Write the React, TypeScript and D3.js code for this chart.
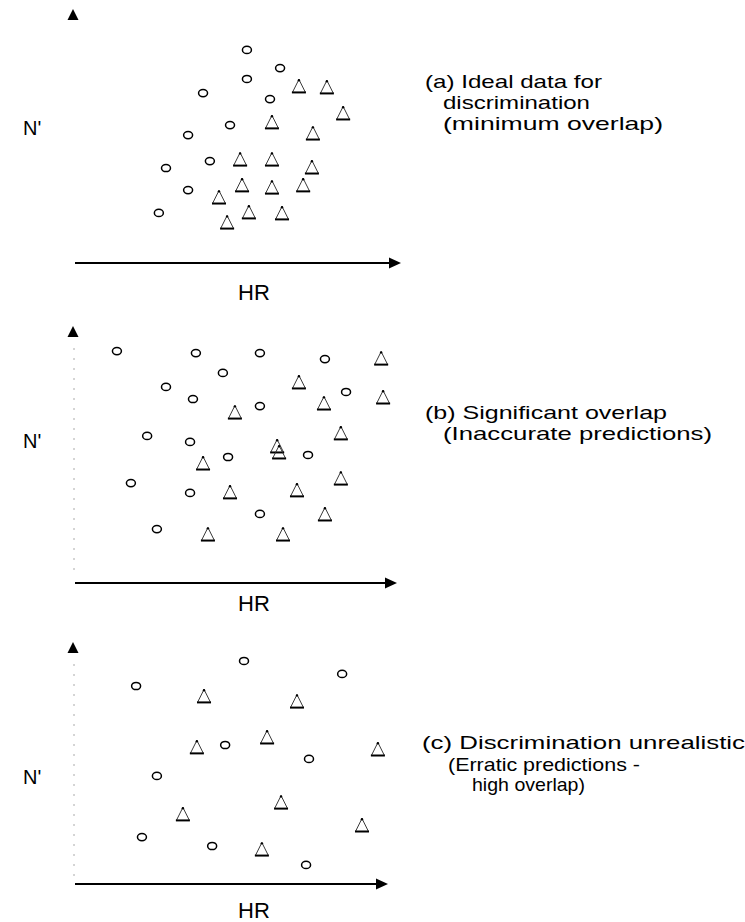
import React from "react";
import * as d3 from "d3";

// Scatter positions on a 0–100 scale: x = HR, y = N'
type Pt = [number, number];

// (a) Ideal data for discrimination
const idealCircles: Pt[] = [
  [52.9, 85.9], [63.1, 78.6], [52.9, 74.2], [39.4, 68.5], [60.0, 66.1],
  [47.7, 55.6], [34.8, 51.6], [41.5, 41.1], [28.0, 38.3], [34.8, 29.4],
  [25.8, 20.2],
];
const idealTriangles: Pt[] = [
  [68.9, 71.4], [77.5, 71.0], [82.5, 60.5], [60.6, 56.9], [73.2, 52.4],
  [50.8, 41.9], [60.6, 41.9], [72.9, 38.7], [51.4, 31.5], [60.6, 30.6],
  [70.2, 31.5], [44.3, 26.6], [53.5, 20.6], [63.7, 20.2], [46.8, 16.5],
];

// (b) Significant overlap
const overlapCircles: Pt[] = [
  [12.9, 92.4], [37.2, 91.6], [56.9, 91.6], [76.9, 89.2], [45.5, 83.7],
  [28.0, 78.1], [83.4, 76.1], [36.3, 73.3], [56.9, 70.5], [22.2, 58.6],
  [35.4, 56.2], [47.1, 50.2], [71.7, 51.0], [17.2, 39.8], [35.4, 35.9],
  [56.9, 27.5], [25.2, 21.5],
];
const overlapTriangles: Pt[] = [
  [94.2, 89.6], [68.9, 80.1], [76.6, 71.7], [94.8, 74.1], [49.2, 68.1],
  [81.8, 59.8], [62.2, 54.6], [62.8, 52.2], [39.4, 47.8], [81.8, 41.8],
  [47.7, 36.3], [68.3, 37.1], [76.9, 27.5], [40.9, 19.5], [64.0, 19.5],
];

// (c) Discrimination unrealistic
const erraticCircles: Pt[] = [
  [52.0, 94.5], [82.2, 89.0], [18.8, 83.9], [46.2, 58.9], [72.0, 53.0],
  [25.2, 45.8], [20.6, 19.9], [42.2, 16.1], [71.1, 8.1],
];
const erraticTriangles: Pt[] = [
  [39.7, 79.7], [68.3, 77.5], [59.1, 62.3], [37.5, 58.1], [93.2, 57.2],
  [63.4, 34.7], [33.2, 29.7], [88.3, 25.0], [57.5, 14.8],
];

const captionA = ["(a) Ideal data for", "discrimination", "(minimum overlap)"];
const captionB = ["(b) Significant overlap", "(Inaccurate predictions)"];
const captionC = ["(c) Discrimination unrealistic", "(Erratic predictions -", "high overlap)"];

const xLabel = "HR";
const yLabel = "N'";

const W = 745;
const H = 922;
const FONT = "'Liberation Sans', Arial, Helvetica, sans-serif";

interface Layout {
  circles: Pt[];
  triangles: Pt[];
  top: number;
  bottom: number;
  arrowTip: number;
  axisEnd: number;
  dottedY: boolean;
  nY: number;
  hrY: number;
  caption: string[];
  capX: number[];
  capY: number[];
  capW: number[];
}

const panels: Layout[] = [
  {
    circles: idealCircles, triangles: idealTriangles,
    top: 15, bottom: 263, arrowTip: 9, axisEnd: 401, dottedY: false,
    nY: 135, hrY: 300,
    caption: captionA, capX: [425, 443, 443], capY: [88, 109, 130], capW: [177, 147, 220],
  },
  {
    circles: overlapCircles, triangles: overlapTriangles,
    top: 332, bottom: 583, arrowTip: 326, axisEnd: 397, dottedY: true,
    nY: 448, hrY: 611,
    caption: captionB, capX: [425, 443], capY: [419, 440], capW: [242, 269],
  },
  {
    circles: erraticCircles, triangles: erraticTriangles,
    top: 648, bottom: 884, arrowTip: 642, axisEnd: 388, dottedY: true,
    nY: 784, hrY: 918,
    caption: captionC, capX: [422, 448, 472], capY: [749, 771, 791], capW: [323, 192, 113],
  },
];

const X0 = 75;
const xScale = d3.scaleLinear().domain([0, 100]).range([X0, 400]);

const triHalfW = 6.5;
const triH = 13;

function Panel({ p }: { p: Layout }) {
  const y = d3.scaleLinear().domain([0, 100]).range([p.bottom, p.top]);
  const yArrow = d3.path();
  yArrow.moveTo(X0 - 2, p.arrowTip);
  yArrow.lineTo(X0 - 7.5, p.arrowTip + 11);
  yArrow.lineTo(X0 + 3.5, p.arrowTip + 11);
  yArrow.closePath();
  const xArrow = d3.path();
  xArrow.moveTo(p.axisEnd, p.bottom);
  xArrow.lineTo(p.axisEnd - 12, p.bottom - 5.5);
  xArrow.lineTo(p.axisEnd - 12, p.bottom + 5.5);
  xArrow.closePath();
  return (
    <g>
      {p.dottedY && (
        <line x1={X0 - 1} x2={X0 - 1} y1={p.arrowTip + 22} y2={p.bottom - 6}
          stroke="#aaa" strokeWidth={1} strokeDasharray="2 8" />
      )}
      <path d={yArrow.toString()} fill="#000" />
      <line x1={X0} x2={p.axisEnd - 8} y1={p.bottom} y2={p.bottom} stroke="#000" strokeWidth={2} />
      <path d={xArrow.toString()} fill="#000" />
      {p.circles.map((d, i) => (
        <ellipse key={"c" + i} cx={xScale(d[0])} cy={y(d[1])} rx={4.5} ry={3.6}
          fill="none" stroke="#000" strokeWidth={1.5} />
      ))}
      {p.triangles.map((d, i) => {
        const cx = xScale(d[0]);
        const cy = y(d[1]);
        const top = cy - triH / 2;
        const base = cy + triH / 2;
        return (
          <g key={"t" + i}>
            <path d={`M${cx - triHalfW},${base} L${cx},${top} L${cx + triHalfW},${base}`}
              fill="none" stroke="#222" strokeWidth={0.9} />
            <line x1={cx - triHalfW - 0.5} x2={cx + triHalfW + 0.5} y1={base} y2={base}
              stroke="#000" strokeWidth={2} />
            <circle cx={cx} cy={top + 0.8} r={1.2} fill="#000" />
          </g>
        );
      })}
      <text x={23} y={p.nY} fontSize={20} fontFamily={FONT} fill="#000">{yLabel}</text>
      <text x={254} y={p.hrY} fontSize={22} fontFamily={FONT} fill="#000" textAnchor="middle">{xLabel}</text>
      {p.caption.map((t, i) => (
        <text key={"l" + i} x={p.capX[i]} y={p.capY[i]} fontSize={19} fontFamily={FONT}
          fill="#000" textLength={p.capW[i]} lengthAdjust="spacingAndGlyphs">{t}</text>
      ))}
    </g>
  );
}

export default function App() {
  return (
    <svg width={W} height={H} viewBox={`0 0 ${W} ${H}`}
      style={{ position: "absolute", left: 0, top: 0, background: "#fff" }}>
      <rect width={W} height={H} fill="#fff" />
      {panels.map((p, i) => <Panel key={i} p={p} />)}
    </svg>
  );
}
